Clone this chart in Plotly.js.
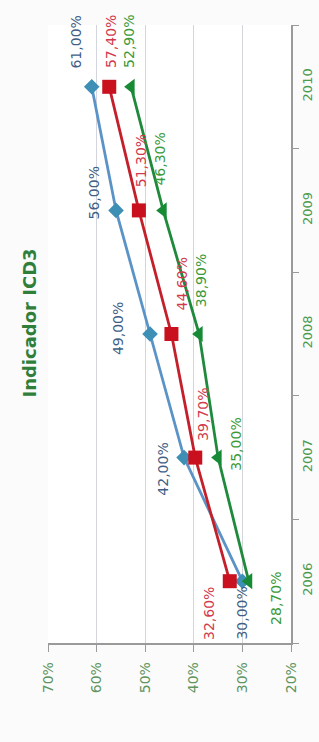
<!DOCTYPE html>
<html>
<head>
<meta charset="utf-8">
<script src="https://cdn.plot.ly/plotly-3.0.1.min.js"></script>
<style>
html,body{margin:0;padding:0;background:#fbfbfb;}
#chart{width:319px;height:742px;}
</style>
</head>
<body>
<div id="chart"></div>
<script>
// Data
const years = [2006, 2007, 2008, 2009, 2010];
const yearLabels = ['2006', '2007', '2008', '2009', '2010'];
const seriesBlue = [30.0, 42.0, 49.0, 56.0, 61.0];
const seriesRed = [32.6, 39.7, 44.6, 51.3, 57.4];
const seriesGreen = [28.7, 35.0, 38.9, 46.3, 52.9];
const percentTicks = [20, 30, 40, 50, 60, 70];
const chartTitle = 'Indicador ICD3';

// Label placement (screen px offsets relative to the marker)
const offBlue  = [[0, 32], [-21, 12], [-32, -5], [-22, -17], [-16, -45]];
const offRed   = [[-21, 32], [7, -43], [11, -50], [3, -50], [2, -45]];
const offGreen = [[27, 17], [17, -13], [2, -53], [-3, -51], [-2, -45]];

const fmt = v => v.toFixed(2).replace('.', ',') + '%';
const FONT = 'DejaVu Sans, Verdana, sans-serif';

const defs = [
  {vals: seriesBlue, line: '#5b93c7', marker: '#3d8fb5', sym: 'diamond', size: 12, label: '#3f5f86', off: offBlue},
  {vals: seriesRed, line: '#c4202b', marker: '#c8101e', sym: 'square', size: 14, label: '#d23a4c', off: offRed},
  {vals: seriesGreen, line: '#1f8a3c', marker: '#178a35', sym: 'triangle-left', size: 14, label: '#3a9a3a', off: offGreen}
];

const traces = defs.map(d => ({
  type: 'scatter', mode: 'lines+markers',
  x: d.vals, y: years,
  line: {color: d.line, width: 2.8},
  marker: {symbol: d.sym, size: d.size, color: d.marker},
  hoverinfo: 'skip'
}));

const annotations = [];
defs.forEach(d => {
  d.vals.forEach((v, i) => {
    annotations.push({
      x: v, y: years[i], xref: 'x', yref: 'y',
      text: fmt(v), showarrow: false, textangle: -90,
      xshift: d.off[i][0], yshift: -d.off[i][1],
      font: {family: FONT, size: 14, color: d.label}
    });
  });
});
annotations.push({
  x: -0.078, y: 0.517, xref: 'paper', yref: 'paper',
  xanchor: 'center', yanchor: 'middle',
  text: '<b>' + chartTitle + '</b>', showarrow: false, textangle: -90,
  font: {family: FONT, size: 18, color: '#2f7f3a'}
});

const layout = {
  width: 319, height: 742,
  margin: {l: 48, r: 28, t: 25, b: 99},
  paper_bgcolor: '#fbfbfb', plot_bgcolor: '#ffffff',
  showlegend: false,
  xaxis: {
    range: [70, 20], tickvals: percentTicks, ticktext: percentTicks.map(t => t + '%'),
    tickangle: -90, ticks: 'outside', ticklen: 7, tickcolor: '#9a9a9a',
    ticklabelstandoff: 5,
    showline: true, linecolor: '#9a9a9a', linewidth: 1.5,
    showgrid: true, gridcolor: '#d4d4dc', gridwidth: 1, zeroline: false,
    tickfont: {family: FONT, size: 14, color: '#5f955f'}
  },
  yaxis: {
    type: 'linear', range: [2005.5, 2010.5],
    tickvals: years, ticktext: yearLabels,
    side: 'right', tickangle: -90, ticks: '',
    ticklabelstandoff: 4,
    minor: {tick0: 2005.5, dtick: 1, ticks: 'outside', ticklen: 6, tickcolor: '#9a9a9a', showgrid: false},
    showline: true, linecolor: '#9a9a9a', linewidth: 1.5,
    showgrid: false, zeroline: false,
    tickfont: {family: FONT, size: 13, color: '#4c9a4c'}
  },
  annotations: annotations
};

Plotly.newPlot('chart', traces, layout, {displayModeBar: false, staticPlot: true});
</script>
</body>
</html>
